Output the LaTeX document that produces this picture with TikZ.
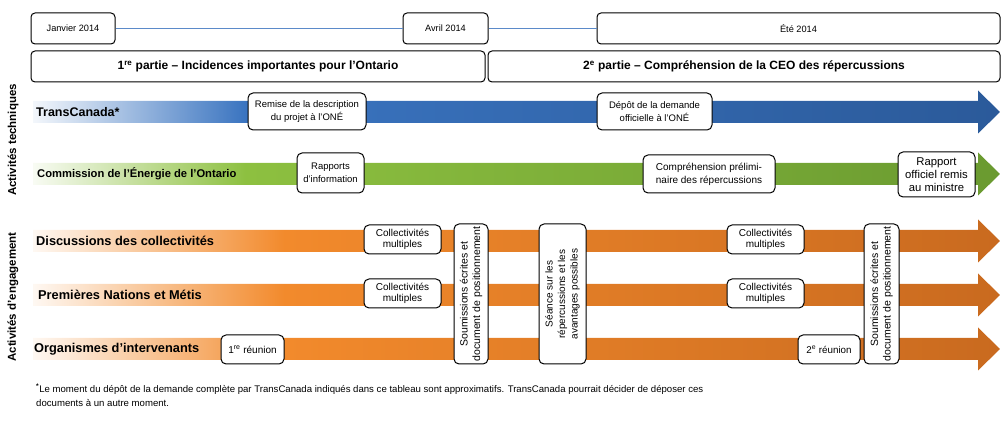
\documentclass[tikz,border=0pt]{standalone}
\usepackage{fontspec}
\setmainfont{Liberation Sans}
\usetikzlibrary{positioning,shapes.geometric}
\definecolor{tcblue}{HTML}{3A74C0}
\definecolor{tcbluedark}{HTML}{2B5A9A}
\definecolor{oebgreen}{HTML}{8DC040}
\definecolor{oebgreendark}{HTML}{6A9A30}
\definecolor{engorange}{HTML}{F28A2C}
\definecolor{engorangedark}{HTML}{C96A1F}
\definecolor{lineblue}{HTML}{5B8AC9}
\pgfdeclarehorizontalshading{bluefade}{100bp}{color(0bp)=(tcblue!6); color(25bp)=(tcblue!6); color(36bp)=(tcblue); color(75bp)=(tcbluedark); color(100bp)=(tcbluedark)}
\pgfdeclarehorizontalshading{greenfade}{100bp}{color(0bp)=(oebgreen!6); color(25bp)=(oebgreen!6); color(36bp)=(oebgreen); color(75bp)=(oebgreendark); color(100bp)=(oebgreendark)}
\pgfdeclarehorizontalshading{orangefade}{100bp}{color(0bp)=(engorange!6); color(25bp)=(engorange!6); color(38bp)=(engorange); color(75bp)=(engorangedark); color(100bp)=(engorangedark)}
\def\sz#1#2{\fontsize{#1}{#2}\selectfont}
\def\ganttbar(#1,#2){\shade[shading=#2] (33,#1-11) -- (978,#1-11) -- (978,#1-21.5) -- (1000,#1) -- (978,#1+21.5) -- (978,#1+11) -- (33,#1+11) -- cycle;}
\tikzstyle{datebox} = [draw, rounded corners=4pt, line width=1pt, minimum height=31pt, inner sep=1pt, font=\sz{9.2}{11}]
\tikzstyle{partbox} = [draw, rounded corners=4pt, line width=1pt, minimum height=31pt, inner sep=1pt, font=\bfseries\sz{12}{14}]
\tikzstyle{evtbox} = [draw, fill=white, rounded corners=5pt, line width=1pt, align=center, inner sep=1pt, font=\sz{9.5}{12.5}]
\tikzstyle{rowlabel} = [anchor=west, inner sep=0pt, font=\bfseries]
\begin{document}
\begin{tikzpicture}[x=1pt,y=-1pt]
      \useasboundingbox (0,0) rectangle (1005,430);
      % calendrier
      \node (jan) [datebox, minimum width=84pt] at (73,28.5) {Janvier 2014};
      \node (avr) [datebox, minimum width=85pt] at (445.5,28.5) {Avril 2014};
      \node (ete) [datebox, minimum width=403pt] at (798.5,28.5) {Été 2014};
      \draw[lineblue, line width=0.8pt] (jan)--(avr);
      \draw[lineblue, line width=0.8pt] (avr)--(ete);
      \node (part1) [partbox, minimum width=454pt] at (258,66.5) {1\textsuperscript{re} partie – Incidences importantes pour l’Ontario};
      \node (part2) [partbox, minimum width=512pt] at (744,66.5) {2\textsuperscript{e} partie – Compréhension de la CEO des répercussions};
      % fleches
      \ganttbar(112,bluefade)
      \ganttbar(174,greenfade)
      \ganttbar(241,orangefade)
      \ganttbar(295,orangefade)
      \ganttbar(349,orangefade)
      \node (act1) [rotate=90, font=\bfseries\sz{11.5}{13}] at (13,140) {Activités techniques};
      \node (act2) [rotate=90, font=\bfseries\sz{11.5}{13}] at (13,297) {Activités d’engagement};
      \node (tc) [rowlabel, font=\bfseries\sz{12.5}{14}] at (36,112) {TransCanada*};
      \node (ceo) [rowlabel, font=\bfseries\sz{11.2}{13}] at (37,174) {Commission de l’Énergie de l’Ontario};
      \node (disc) [rowlabel, font=\bfseries\sz{12.8}{14}] at (36,241) {Discussions des collectivités};
      \node (pn) [rowlabel, font=\bfseries\sz{12.8}{14}] at (38,295) {Premières Nations et Métis};
      \node (org) [rowlabel, font=\bfseries\sz{12.8}{14}] at (34,349) {Organismes d’intervenants};
      % etapes
      \node (remise) [evtbox, minimum width=118pt, minimum height=37pt] at (307,111.5) {Remise de la description\\du projet à l'ONÉ};
      \node (depot) [evtbox, minimum width=115pt, minimum height=37pt] at (654.5,111.5) {Dépôt de la demande\\officielle à l'ONÉ};
      \node (rapp) [evtbox, minimum width=67pt, minimum height=40pt] at (330.5,173) {Rapports\\d'information};
      \node (compr) [evtbox, minimum width=132pt, minimum height=38pt, font=\sz{10}{13}] at (709,174) {Compréhension prélimi-\\naire des répercussions};
      \node (rapoff) [evtbox, minimum width=77pt, minimum height=45pt, font=\sz{11.3}{13}] at (936.5,174.5) {Rapport\\officiel remis\\au ministre};
      \node (coll1) [evtbox, minimum width=77pt, minimum height=29pt, font=\sz{10}{11.5}] at (402.5,239.5) {Collectivités\\multiples};
      \node (coll2) [evtbox, minimum width=77pt, minimum height=29pt, font=\sz{10}{11.5}] at (402.5,293.5) {Collectivités\\multiples};
      \node (coll3) [evtbox, minimum width=77pt, minimum height=29pt, font=\sz{10}{11.5}] at (765.5,239.5) {Collectivités\\multiples};
      \node (coll4) [evtbox, minimum width=77pt, minimum height=29pt, font=\sz{10}{11.5}] at (765.5,293.5) {Collectivités\\multiples};
      \node (reun1) [evtbox, minimum width=63pt, minimum height=29pt, font=\sz{10}{12}] at (252.5,349.5) {1\textsuperscript{re} réunion};
      \node (reun2) [evtbox, minimum width=62pt, minimum height=29pt, font=\sz{9.8}{12}] at (829,349.5) {2\textsuperscript{e} réunion};
      \node (soum1) [evtbox, rotate=90, minimum width=140pt, minimum height=34pt, font=\sz{10.5}{12.5}] at (471,294) {Soumissions écrites et\\document de positionnement};
      \node (seance) [evtbox, rotate=90, minimum width=140pt, minimum height=47pt, font=\sz{10}{12.5}] at (562.5,294) {Séance sur les\\répercussions et les\\avantages possibles};
      \node (soum2) [evtbox, rotate=90, minimum width=140pt, minimum height=35pt, font=\sz{10.5}{12.5}] at (881.5,294) {Soumissions écrites et\\document de positionnement};
      % note
      \node (note) [anchor=north west, align=left, inner sep=0pt, font=\sz{9.6}{14}] at (36,384) {\textbf{\textsuperscript{*}}Le moment du dépôt de la demande complète par TransCanada indiqués dans ce tableau sont approximatifs. TransCanada pourrait décider de déposer ces\\documents à un autre moment.};
\end{tikzpicture}
\end{document}
